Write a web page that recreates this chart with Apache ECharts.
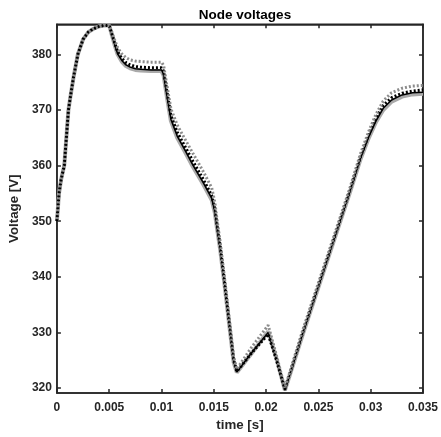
<!DOCTYPE html>
<html><head><meta charset="utf-8">
<script src="https://cdn.jsdelivr.net/npm/echarts@6/dist/echarts.min.js"></script>
<style>html,body{margin:0;padding:0;background:#fff}#c{width:441px;height:437px}</style>
</head><body><div id="c"></div>
<script>
const titleText = "Node voltages";
const xName = "time [s]";
const yName = "Voltage [V]";
const xTicks = [0, 0.005, 0.01, 0.015, 0.02, 0.025, 0.03, 0.035];
const yTicks = [320, 330, 340, 350, 360, 370, 380];

const time = [0, 0.0002, 0.0004, 0.0007, 0.0009, 0.0011, 0.0013, 0.0016, 0.002, 0.0025, 0.003, 0.0035, 0.004, 0.0045, 0.005,
  0.0052, 0.0055, 0.0058, 0.0062, 0.0066, 0.007, 0.0075, 0.008, 0.009, 0.01,
  0.0102, 0.0105, 0.0109, 0.0115, 0.0122, 0.013, 0.014, 0.0148, 0.0151,
  0.0153, 0.0156, 0.016, 0.0165, 0.0169, 0.0172, 0.0186, 0.0202, 0.021, 0.0218,
  0.0235, 0.025, 0.0265, 0.028, 0.029, 0.0298, 0.0305, 0.0312, 0.032, 0.033, 0.034, 0.035];

const vGraySolid = [350, 355, 357.5, 360, 365, 370, 372.5, 376, 380, 382.7, 384, 384.6, 385, 385.2, 385.2,
  383.8, 381.8, 380, 378.7, 377.9, 377.5, 377.2, 377.1, 377.0, 377.0,
  376.2, 372.5, 368, 365, 362.6, 359.8, 356.6, 353.8, 351.5,
  348.8, 345, 339, 331, 324.6, 322.8, 326.2, 330.2, 325.2, 319.6,
  329.6, 338.1, 346.6, 355.1, 361, 364.9, 367.8, 370, 371.5, 372.4, 372.8, 372.9];

const vBlackSolid = [350, 355, 357.5, 360, 365, 370, 372.5, 376, 380, 382.7, 384, 384.6, 385, 385.2, 385.2,
  383.9, 381.9, 380.1, 378.9, 378.1, 377.7, 377.4, 377.3, 377.2, 377.2,
  376.4, 372.8, 368.3, 365.3, 362.9, 360.1, 356.9, 354.1, 351.7,
  349.0, 345.2, 339.2, 331.2, 324.8, 322.9, 326.3, 330.0, 325.1, 319.6,
  329.8, 338.3, 346.8, 355.3, 361.2, 365.1, 368.0, 370.3, 371.8, 372.7, 373.1, 373.2];

const vBlackDotted = [350, 355, 357.5, 360, 365, 370, 372.5, 376, 380, 382.7, 384, 384.6, 385, 385.2, 385.2,
  384, 382.2, 380.5, 379.3, 378.5, 378.1, 377.8, 377.7, 377.6, 377.6,
  377, 373.5, 369, 366, 363.6, 360.8, 357.5, 354.6, 352.3,
  349.5, 345.6, 339.5, 331.5, 325, 323, 326.3, 329.7, 325.0, 319.8,
  330, 338.5, 347, 355.5, 361.5, 365.5, 368.5, 370.8, 372.2, 373, 373.4, 373.6];

const vGrayDotted = [350, 355, 357.5, 360, 365, 370, 372.5, 376, 380, 382.7, 384, 384.6, 385, 385.2, 385.2,
  384.3, 382.7, 381.2, 380.1, 379.4, 379.0, 378.8, 378.7, 378.6, 378.6,
  378, 374.6, 370.2, 367.3, 364.9, 362.2, 358.9, 356, 353.4,
  350.4, 346.4, 340.2, 332.2, 325.6, 323.4, 327.3, 331.3, 325.8, 320.0,
  330.4, 338.9, 347.4, 355.9, 362, 366.1, 369.2, 371.6, 373.1, 373.9, 374.3, 374.4];

const toPairs = (v) => time.map((t, i) => [t, v[i]]);
const font = "'Liberation Sans', Arial, Helvetica, sans-serif";
const ink = '#262626';

const chart = echarts.init(document.getElementById('c'), null, {renderer: 'canvas'});
const fmtX = (v) => { const r = Math.round(v * 1000) / 1000; return r === 0 ? '0' : String(r); };

chart.setOption({
  animation: false,
  backgroundColor: '#fff',
  title: {
    text: titleText, left: 240, top: 3, textAlign: 'center',
    textStyle: {fontFamily: font, fontSize: 13.5, fontWeight: 'bold', color: '#000'}
  },
  grid: {left: 54.3, right: 15, top: 24.3, bottom: 42.7, show: true, borderColor: ink, borderWidth: 1.5, backgroundColor: 'transparent'},
  xAxis: [{
    type: 'value', min: 0, max: 0.035, interval: 0.005,
    name: xName, nameLocation: 'middle', nameGap: 25,
    nameTextStyle: {fontFamily: font, fontSize: 13.3, fontWeight: 'bold', color: ink},
    axisLine: {show: true, onZero: false, lineStyle: {color: ink, width: 1.5}},
    axisTick: {show: true, inside: true, length: 4, lineStyle: {color: ink, width: 1.5}},
    axisLabel: {margin: 9, formatter: fmtX, fontFamily: font, fontSize: 12, fontWeight: 'bold', color: ink},
    splitLine: {show: false}
  }, {
    type: 'value', min: 0, max: 0.035, interval: 0.005, position: 'top',
    axisLine: {show: true, onZero: false, lineStyle: {color: ink, width: 1.5}},
    axisTick: {show: true, inside: true, length: 4, lineStyle: {color: ink, width: 1.5}},
    axisLabel: {show: false}, splitLine: {show: false}
  }],
  yAxis: [{
    type: 'value', min: 319.1, max: 385.4,
    name: yName, nameLocation: 'middle', nameGap: 29, nameRotate: 90,
    nameTextStyle: {fontFamily: font, fontSize: 13.3, fontWeight: 'bold', color: ink},
    axisLine: {show: true, onZero: false, lineStyle: {color: ink, width: 1.5}},
    axisTick: {show: true, inside: true, length: 4, customValues: yTicks, lineStyle: {color: ink, width: 1.5}},
    axisLabel: {margin: 5, customValues: yTicks, fontFamily: font, fontSize: 12, fontWeight: 'bold', color: ink},
    splitLine: {show: false}
  }, {
    type: 'value', min: 319.1, max: 385.4, position: 'right',
    axisLine: {show: true, onZero: false, lineStyle: {color: ink, width: 1.5}},
    axisTick: {show: true, inside: true, length: 4, customValues: yTicks, lineStyle: {color: ink, width: 1.5}},
    axisLabel: {show: false}, splitLine: {show: false}
  }],
  series: [
    {type: 'line', name: 'n1', data: toPairs(vGraySolid), showSymbol: false, symbol: 'none',
      lineStyle: {color: '#aaaaaa', width: 4, type: 'solid'}},
    {type: 'line', name: 'n2', data: toPairs(vBlackSolid), showSymbol: false, symbol: 'none',
      lineStyle: {color: '#000', width: 1.5, type: 'solid'}},
    {type: 'line', name: 'n3', data: toPairs(vBlackDotted), showSymbol: false, symbol: 'none',
      lineStyle: {color: '#000', width: 3, type: [2, 2]}},
    {type: 'line', name: 'n4', data: toPairs(vGrayDotted), showSymbol: false, symbol: 'none',
      lineStyle: {color: '#8c8c8c', width: 3, type: [2, 2], dashOffset: 2}}
  ]
});
</script></body></html>
